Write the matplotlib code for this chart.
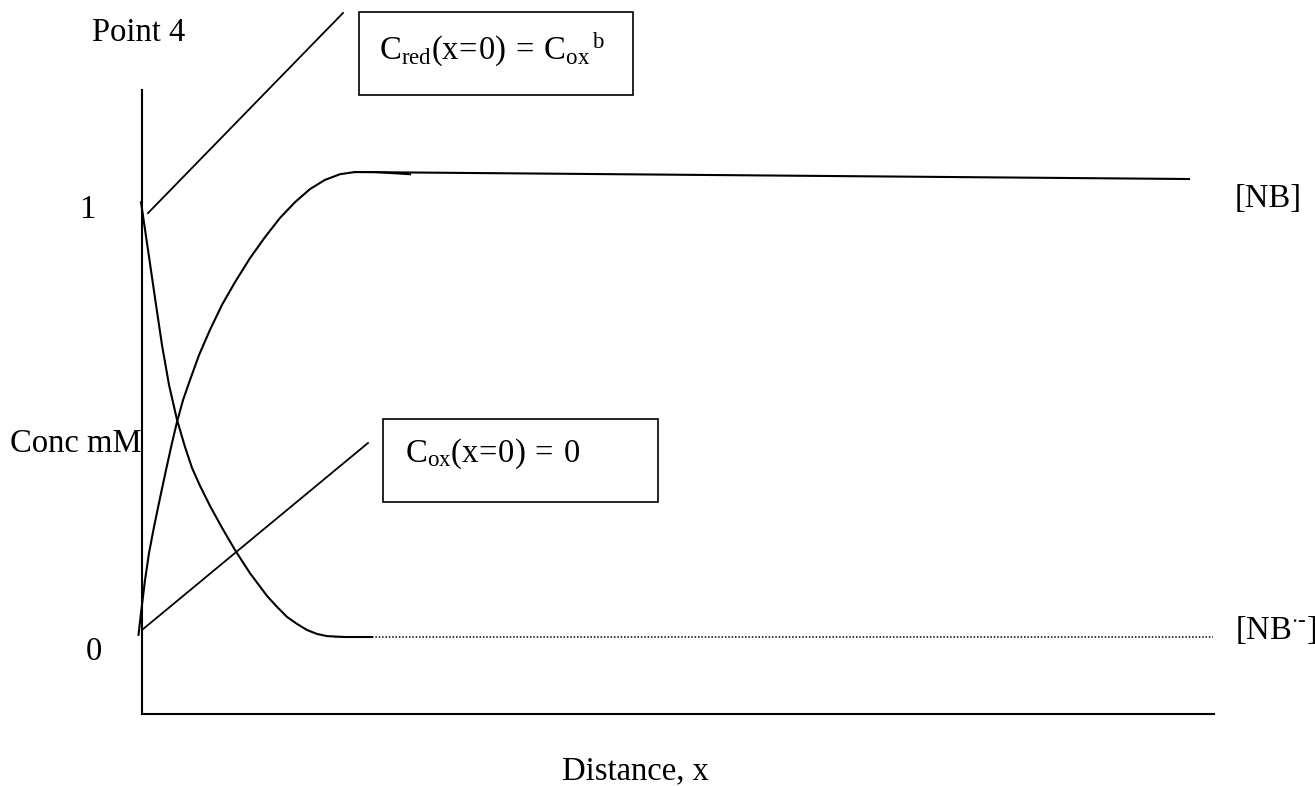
import matplotlib
matplotlib.use("Agg")
import matplotlib.pyplot as plt
from matplotlib.patches import Rectangle

plt.rcParams['font.family'] = ['Liberation Serif', 'DejaVu Serif']
plt.rcParams['mathtext.fontset'] = 'custom'
plt.rcParams['mathtext.rm'] = 'Liberation Serif'
plt.rcParams['mathtext.it'] = 'Liberation Serif:italic'
plt.rcParams['mathtext.bf'] = 'Liberation Serif:bold'

# ---- data (distance x, concentration mM) ----
nb_minus_x = [-0.01, 0.06, 0.13, 0.20, 0.27, 0.35, 0.43, 0.50, 0.58, 0.68, 0.80, 0.93,
              1.08, 1.25, 1.35, 1.45, 1.55, 1.65, 1.75, 1.85, 2.03, 2.30]
nb_minus_y = [0.995, 0.886, 0.776, 0.668, 0.577, 0.497, 0.435, 0.387, 0.346, 0.300, 0.250, 0.199,
              0.146, 0.094, 0.069, 0.046, 0.030, 0.016, 0.007, 0.002, 0.0, 0.0]
nb_minus_bulk_x = [1.93, 10.71]
nb_minus_bulk_y = [0.0, 0.0]

nb_x = [-0.035, -0.01, 0.03, 0.07, 0.12, 0.18, 0.24, 0.30, 0.35, 0.41, 0.48, 0.57, 0.68,
        0.80, 0.93, 1.08, 1.23, 1.38, 1.53, 1.68, 1.83, 1.98, 2.13, 2.33, 2.68]
nb_y = [0.005, 0.055, 0.130, 0.192, 0.252, 0.318, 0.382, 0.444, 0.492, 0.542, 0.588, 0.645, 0.703,
        0.760, 0.812, 0.867, 0.915, 0.959, 0.995, 1.025, 1.046, 1.059, 1.064, 1.064, 1.059]
nb_bulk_x = [2.13, 10.47]
nb_bulk_y = [1.064, 1.048]

# annotation leader lines and boxes (data coordinates)
lead1_x = [0.06, 2.01]
lead1_y = [0.970, 1.428]
lead2_x = [0.01, 2.26]
lead2_y = [0.018, 0.444]
box1 = (2.17, 1.240, 2.74, 0.190)
box2 = (2.41, 0.309, 2.75, 0.190)

W, H = 1315, 786
fig = plt.figure(figsize=(W / 100, H / 100), dpi=100)
ax = fig.add_axes([142 / W, 1 - 714 / H, (1214 - 142) / W, (714 - 90) / H])
ax.set_xlim(0, 10.72)
ax.set_ylim(-0.1762, 1.2517)
for s in ['top', 'right']:
    ax.spines[s].set_visible(False)
for s in ['left', 'bottom']:
    ax.spines[s].set_linewidth(1.5)
ax.set_xticks([])
ax.set_yticks([])
ax.patch.set_alpha(0)

lw = 1.5
ax.plot(nb_minus_x, nb_minus_y, color='black', lw=lw, clip_on=False, solid_joinstyle='round')
ax.plot(nb_minus_bulk_x, nb_minus_bulk_y, color='black', lw=1.1, linestyle=(0, (1, 1.2)), clip_on=False)
ax.plot(nb_x, nb_y, color='black', lw=lw, clip_on=False, solid_joinstyle='round')
ax.plot(nb_bulk_x, nb_bulk_y, color='black', lw=lw, clip_on=False)
ax.plot(lead1_x, lead1_y, color='black', lw=1.3, clip_on=False)
ax.plot(lead2_x, lead2_y, color='black', lw=1.3, clip_on=False)
for bx, by, bw, bh in (box1, box2):
    ax.add_patch(Rectangle((bx, by), bw, bh, fill=False, edgecolor='black', lw=1.2, clip_on=False))

fs = 23.5
def ftext(px, py, s, ha='left', va='baseline', size=fs):
    return fig.text(px / W, 1 - py / H, s, ha=ha, va=va, fontsize=size)

ftext(92, 41, 'Point 4')
ftext(87, 218, '1', ha='center')
ftext(94, 660, '0', ha='center')
ftext(10, 452, 'Conc mM')
ftext(562, 779, 'Distance, x')
ftext(1235, 207, '[NB]')
ftext(1235, 639, r'$\mathrm{[NB^{\cdot\text{-}}]}$')
ftext(379, 60, r'$\mathrm{C_{red}(x\!=\!0)\:=\:C_{ox}{}^{\,b}}$')
ftext(405, 462, r'$\mathrm{C_{ox}(x\!=\!0)\:=\:0}$')

fig.savefig('out.png', dpi=100)
